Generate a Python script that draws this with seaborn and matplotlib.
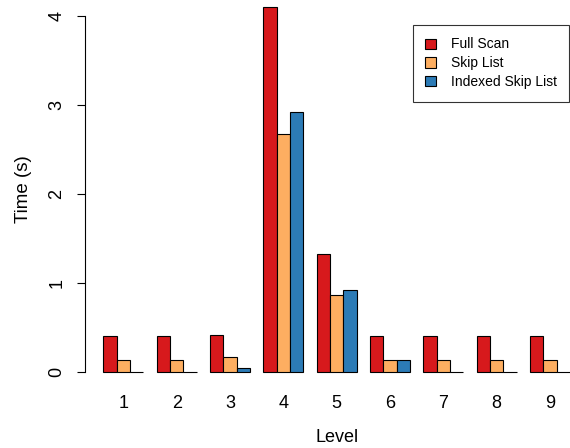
import matplotlib
matplotlib.use("Agg")
import matplotlib.pyplot as plt
import seaborn as sns
import pandas as pd

levels = ["1", "2", "3", "4", "5", "6", "7", "8", "9"]
full_scan = [0.40, 0.40, 0.42, 4.10, 1.33, 0.41, 0.40, 0.40, 0.40]
skip_list = [0.14, 0.14, 0.17, 2.67, 0.86, 0.14, 0.14, 0.14, 0.14]
indexed_skip_list = [0.005, 0.005, 0.05, 2.92, 0.92, 0.135, 0.005, 0.005, 0.005]
series_names = ["Full Scan", "Skip List", "Indexed Skip List"]
colors = ["#D7191C", "#FDAE61", "#2C7BB6"]

df = pd.DataFrame({
    "Level": levels * 3,
    "Time": full_scan + skip_list + indexed_skip_list,
    "Method": [s for s in series_names for _ in levels],
})

sns.set_theme(style="white")
plt.rcParams["font.family"] = ["Liberation Sans", "DejaVu Sans"]

W, H = 570, 448
fig = plt.figure(figsize=(W / 100, H / 100), dpi=100)

# plot region in pixels (left, bottom-from-top, right, top-from-top)
left_px, right_px = 84.7, 588.7
zero_px, unit_px = 372.0, 89.0
ymin, ymax = -0.164, 4.264
bottom_px = zero_px - ymin * unit_px
top_px = zero_px - ymax * unit_px
ax = fig.add_axes([left_px / W, 1 - bottom_px / H,
                   (right_px - left_px) / W, (bottom_px - top_px) / H])

sns.barplot(data=df, x="Level", y="Time", hue="Method", order=levels,
            hue_order=series_names, palette=colors, width=0.75, gap=0,
            edgecolor="black", linewidth=0.8, saturation=1, ax=ax,
            errorbar=None, legend=True)

ax.set_xlim(-0.724, 8.726)
ax.set_ylim(ymin, ymax)

for s in ["top", "right", "bottom"]:
    ax.spines[s].set_visible(False)
ax.spines["left"].set_bounds(0, 4)
ax.spines["left"].set_linewidth(0.8)
ax.spines["left"].set_color("black")

ax.set_yticks([0, 1, 2, 3, 4])
ax.set_yticklabels(["0", "1", "2", "3", "4"], rotation=90, va="center")
ax.tick_params(axis="y", which="major", left=True, length=6, width=0.8,
               color="black", labelsize=13, pad=8, labelcolor="black")
ax.tick_params(axis="x", bottom=False, labelsize=13, pad=0, labelcolor="black")

ax.set_xlabel("Level", fontsize=13, color="black", labelpad=12)
ax.set_ylabel("Time (s)", fontsize=13.5, color="black", labelpad=12)

leg = ax.legend(loc="upper left", bbox_to_anchor=(412.7 / W, 1 - 25 / H),
                bbox_transform=fig.transFigure, fontsize=10, frameon=True,
                fancybox=False, edgecolor="black", handlelength=0.75,
                handleheight=0.75, handletextpad=1.1, labelspacing=0.35,
                borderpad=0.9, borderaxespad=0)
leg.get_frame().set_linewidth(0.8)
for t in leg.get_texts():
    t.set_color("black")

fig.savefig("out.png", dpi=100)
